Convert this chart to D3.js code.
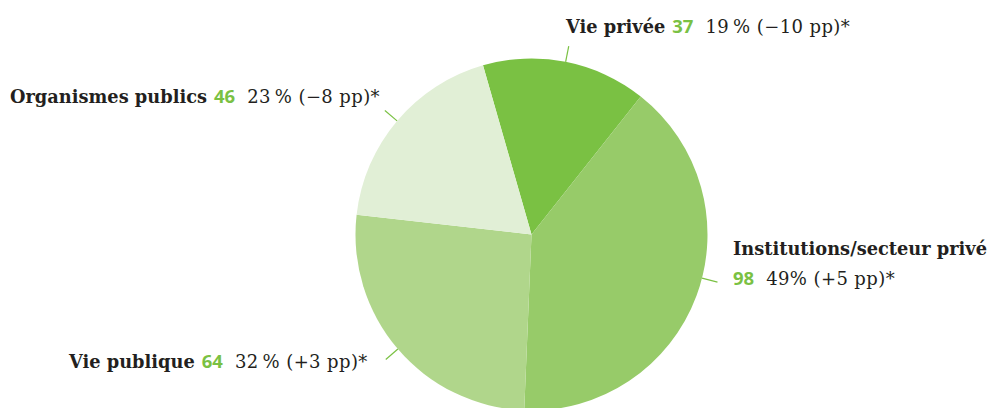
<!DOCTYPE html>
<html>
<head>
<meta charset="utf-8">
<script src="https://cdn.jsdelivr.net/npm/d3@7"></script>
<style>
  body { margin: 0; background: #fff; }
  text { font-family: "DejaVu Serif", serif; font-size: 18px; fill: #231f20; }
  .name { font-weight: bold; font-size: 17.8px; }
  .num { font-weight: bold; fill: #7ac143; font-family: "Open Sans", sans-serif; font-size: 18.5px; }
  .share { letter-spacing: 0.4px; }
</style>
</head>
<body>
<div id="chart"></div>
<script>
// data
var categories = ["Vie privée", "Institutions/secteur privé", "Vie publique", "Organismes publics"];
var values = [37, 98, 64, 46];
var shareLabels = ["19\u2009% (\u221210 pp)*", "49% (+5 pp)*", "32\u2009% (+3 pp)*", "23\u2009% (\u22128 pp)*"];
var colors = ["#7ac143", "#97cb69", "#b0d68b", "#e1efd6"];

var width = 992, height = 408;
var cx = 531.5, cy = 234.5, radius = 176;

// label placement (x, baseline y, second line?) and leader tweak in degrees
var labelPos = [
  {x: 566, y: 33, wrap: false, tweak: 0},
  {x: 733, y: 255, wrap: true, tweak: -6},
  {x: 69, y: 368, wrap: false, tweak: 0},
  {x: 10, y: 103, wrap: false, tweak: 0}
];

var svg = d3.select("#chart").append("svg")
    .attr("width", width)
    .attr("height", height);

var data = categories.map(function(c, i) {
  return {name: c, value: values[i], share: shareLabels[i], color: colors[i], pos: labelPos[i]};
});

var pie = d3.pie()
    .sort(null)
    .value(function(d) { return d.value; })
    .startAngle(-16 * Math.PI / 180)
    .endAngle(344 * Math.PI / 180);

var arc = d3.arc().innerRadius(0).outerRadius(radius);

var g = svg.append("g").attr("transform", "translate(" + cx + "," + cy + ")");

var arcs = pie(data);

g.selectAll("path.slice")
  .data(arcs)
  .enter().append("path")
  .attr("class", "slice")
  .attr("d", arc)
  .style("fill", function(d) { return d.data.color; });

// leader lines
g.selectAll("line.leader")
  .data(arcs)
  .enter().append("line")
  .attr("class", "leader")
  .each(function(d) {
    var a = (d.startAngle + d.endAngle) / 2 + d.data.pos.tweak * Math.PI / 180;
    d3.select(this)
      .attr("x1", Math.sin(a) * radius)
      .attr("y1", -Math.cos(a) * radius)
      .attr("x2", Math.sin(a) * (radius + 16))
      .attr("y2", -Math.cos(a) * (radius + 16));
  })
  .style("stroke", "#7ac143")
  .style("stroke-width", 1.2);

// labels
data.forEach(function(d) {
  var t = svg.append("text")
    .attr("x", d.pos.x)
    .attr("y", d.pos.y);
  t.append("tspan").attr("class", "name").text(d.name);
  var num = t.append("tspan").attr("class", "num").attr("dx", 7).text(d.value);
  if (d.pos.wrap) num.attr("x", d.pos.x).attr("dx", 0).attr("dy", 30);
  t.append("tspan").attr("class", "share").attr("dx", 12).text(d.share);
});
</script>
</body>
</html>
